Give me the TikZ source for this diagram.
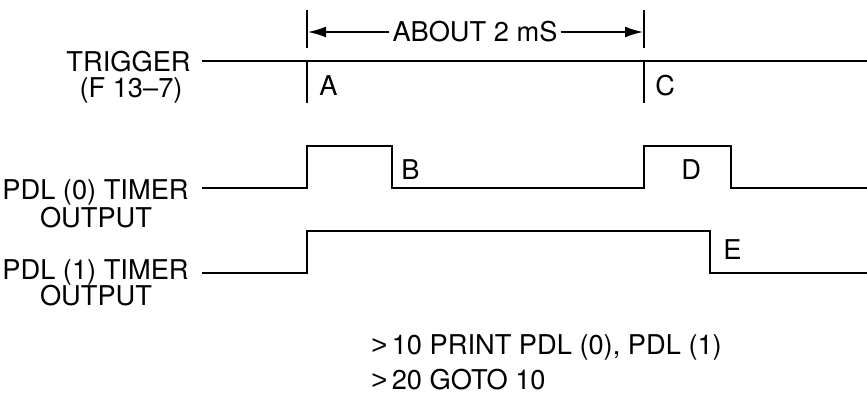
\documentclass[tikz,border=0pt]{standalone}
\usepackage{fontspec}
\setmainfont{TeX Gyre Heros}
\newfontfamily\gtfont{Liberation Sans}
\usetikzlibrary{arrows.meta, positioning}

\begin{document}
\begin{tikzpicture}[scale=1.0, line width=1.6pt,
  lbl/.style={inner sep=0pt, font=\fontsize{15.5}{18}\selectfont},
  span/.style={-{Latex[length=3.8mm, width=2.2mm]}}]
  \useasboundingbox (0,0) rectangle (17.34,7.94);
  \coordinate (L0) at (4.04,6.72);
  \coordinate (R0) at (17.34,6.72);
  \coordinate (A) at (6.14,6.72);
  \coordinate (C) at (12.88,6.72);
  \coordinate (Atop) at (6.14,7.30);
  \coordinate (Ctop) at (12.88,7.30);
  % 触发信号
  \draw (L0) -- (R0);
  \draw (6.14,7.74) -- (6.14,6.98);
  \draw (A) -- ++(0,-0.84);
  \draw (12.88,7.74) -- (12.88,6.98);
  \draw (C) -- ++(0,-0.84);
  \node[lbl, anchor=base] (about) at (9.5,7.10) {ABOUT 2 mS};
  \draw[span] ([xshift=-1pt]about.west |- Atop) -- (Atop);
  \draw[span] ([xshift=1pt]about.east |- Ctop) -- (Ctop);
  % 两个定时器输出
  \draw (4.04,4.18) -- (6.14,4.18) -- (6.14,5.02) -- (7.84,5.02) -- (7.84,4.18)
    -- (12.88,4.18) -- (12.88,5.02) -- (14.62,5.02) -- (14.62,4.18) -- (17.34,4.18);
  \draw (4.04,2.48) -- (6.14,2.48) -- (6.14,3.32) -- (14.2,3.32) -- (14.2,2.48)
    -- (17.34,2.48);
  \node[lbl, anchor=base west] (labA) at (6.36,6.02) {A};
  \node[lbl, anchor=base west] (labC) at (13.08,6.02) {C};
  \node[lbl, anchor=base west] (labB) at (8.0,4.34) {B};
  \node[lbl, anchor=base west] (labD) at (13.6,4.34) {D};
  \node[lbl, anchor=base west] (labE) at (14.44,2.74) {E};
  \node[lbl, anchor=base east] (trig) at (3.84,6.50) {TRIGGER};
  \node[lbl, anchor=base] (trigpin) at (2.62,5.98) {(F 13--7)};
  \node[lbl, anchor=base east] (pdlz) at (3.80,3.94) {PDL (0) TIMER};
  \node[lbl, anchor=base] (outz) at (1.92,3.38) {OUTPUT};
  \node[lbl, anchor=base east] (pdlo) at (3.80,2.34) {PDL (1) TIMER};
  \node[lbl, anchor=base] (outo) at (1.92,1.82) {OUTPUT};
  \node[lbl, anchor=base west] (prog1) at (7.4,0.84) {{\gtfont >}\,10 PRINT PDL (0), PDL (1)};
  \node[lbl, anchor=base west] (prog2) at (7.4,0.14) {{\gtfont >}\,20 GOTO 10};
\end{tikzpicture}
\end{document}
